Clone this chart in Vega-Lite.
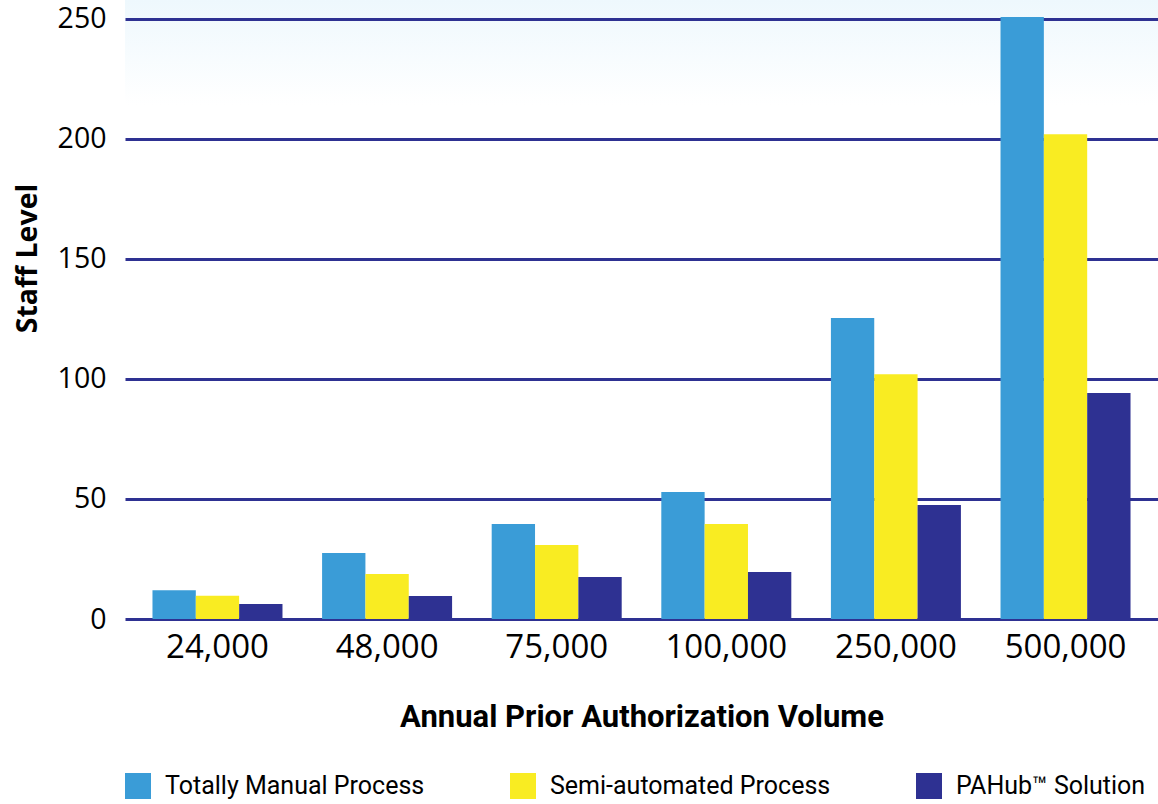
{
  "$schema": "https://vega.github.io/schema/vega-lite/v6.json",
  "width": 1033,
  "height": 619,
  "autosize": {"type": "none"},
  "padding": {"left": 125, "top": 0, "right": 0, "bottom": 185},
  "background": "#ffffff",
  "data": {
    "values": [
      {"volume": "24,000", "process": "Totally Manual Process", "staff": 12},
      {"volume": "24,000", "process": "Semi-automated Process", "staff": 9.7},
      {"volume": "24,000", "process": "PAHub™ Solution", "staff": 6.3},
      {"volume": "48,000", "process": "Totally Manual Process", "staff": 27.5},
      {"volume": "48,000", "process": "Semi-automated Process", "staff": 18.7},
      {"volume": "48,000", "process": "PAHub™ Solution", "staff": 9.6},
      {"volume": "75,000", "process": "Totally Manual Process", "staff": 39.6},
      {"volume": "75,000", "process": "Semi-automated Process", "staff": 30.8},
      {"volume": "75,000", "process": "PAHub™ Solution", "staff": 17.5},
      {"volume": "100,000", "process": "Totally Manual Process", "staff": 52.9},
      {"volume": "100,000", "process": "Semi-automated Process", "staff": 39.6},
      {"volume": "100,000", "process": "PAHub™ Solution", "staff": 19.6},
      {"volume": "250,000", "process": "Totally Manual Process", "staff": 125.4},
      {"volume": "250,000", "process": "Semi-automated Process", "staff": 102},
      {"volume": "250,000", "process": "PAHub™ Solution", "staff": 47.5},
      {"volume": "500,000", "process": "Totally Manual Process", "staff": 250.8},
      {"volume": "500,000", "process": "Semi-automated Process", "staff": 202},
      {"volume": "500,000", "process": "PAHub™ Solution", "staff": 94.2}
    ]
  },
  "mark": {"type": "bar"},
  "encoding": {
    "x": {
      "field": "volume",
      "type": "nominal",
      "sort": ["24,000", "48,000", "75,000", "100,000", "250,000", "500,000"],
      "scale": {"paddingInner": 0.2335, "paddingOuter": 0.162},
      "axis": {
        "title": "Annual Prior Authorization Volume",
        "labelAngle": 0,
        "labelFont": "Open Sans",
        "labelFontSize": 33,
        "labelColor": "#000000",
        "labelBaseline": "alphabetic",
        "labelPadding": 38,
        "ticks": false,
        "tickSize": 0,
        "domain": false,
        "titleFont": "Roboto",
        "titleFontSize": 31,
        "titleFontWeight": "bold",
        "titleColor": "#000000",
        "titleBaseline": "alphabetic",
        "titleY": 107
      }
    },
    "xOffset": {
      "field": "process",
      "type": "nominal",
      "sort": ["Totally Manual Process", "Semi-automated Process", "PAHub™ Solution"],
      "scale": {"paddingInner": 0, "paddingOuter": 0}
    },
    "y": {
      "field": "staff",
      "type": "quantitative",
      "scale": {"domain": [0, 257.9], "nice": false, "zero": true},
      "axis": {
        "title": "Staff Level",
        "values": [0, 50, 100, 150, 200, 250],
        "grid": true,
        "gridColor": "#2e3192",
        "gridWidth": 3,
        "gridOpacity": 1,
        "domain": false,
        "ticks": false,
        "tickSize": 0,
        "labelFont": "Open Sans",
        "labelFontSize": 28.5,
        "labelColor": "#000000",
        "labelPadding": 19,
        "titleFont": "Open Sans",
        "titleFontSize": 28.5,
        "titleFontWeight": "bold",
        "titleColor": "#000000",
        "titleAngle": 270,
        "titleAlign": "center",
        "titleBaseline": "middle",
        "titleX": -98,
        "titleY": 258
      }
    },
    "color": {
      "field": "process",
      "type": "nominal",
      "sort": ["Totally Manual Process", "Semi-automated Process", "PAHub™ Solution"],
      "scale": {
        "domain": ["Totally Manual Process", "Semi-automated Process", "PAHub™ Solution"],
        "range": ["#3a9cd7", "#f9ec22", "#2e3192"]
      },
      "legend": {
        "title": null,
        "orient": "none",
        "legendX": 0,
        "legendY": 773,
        "direction": "horizontal",
        "padding": 0,
        "symbolType": "square",
        "symbolSize": 676,
        "symbolStrokeWidth": 0,
        "symbolOpacity": 1,
        "labelFont": "Roboto",
        "labelFontSize": 25,
        "labelColor": "#000000",
        "labelOffset": 14,
        "labelLimit": 400,
        "columnPadding": 85
      }
    }
  },
  "config": {
    "view": {
      "stroke": null,
      "fill": {
        "gradient": "linear",
        "x1": 0, "y1": 0, "x2": 0, "y2": 1,
        "stops": [
          {"offset": 0, "color": "#eef8fd"},
          {"offset": 0.17, "color": "#ffffff"}
        ]
      }
    }
  }
}
